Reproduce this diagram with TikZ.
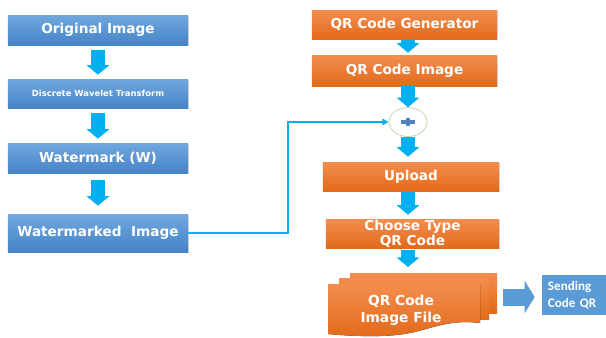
\documentclass[tikz,border=0pt]{standalone}
\usepackage{fontspec}
\setsansfont{DejaVu Sans}
\newfontfamily\carlito{Carlito}
\usetikzlibrary{arrows.meta,shapes.geometric,shadows}

\definecolor{bluetop}{RGB}{112,168,222}
\definecolor{bluebot}{RGB}{70,131,199}
\definecolor{orgtop}{RGB}{243,141,78}
\definecolor{orgbot}{RGB}{226,106,27}
\definecolor{arrowcyan}{RGB}{0,176,240}
\definecolor{sendblue}{RGB}{91,155,213}
\definecolor{ringgreen}{RGB}{169,209,142}
\definecolor{plusblue}{RGB}{79,129,189}

\begin{document}
\begin{tikzpicture}[x=0.025cm, y=-0.025cm,
  boxfont/.style={font=\sffamily\bfseries\fontsize{9.7}{10.7}\selectfont},
  bluebox/.style={rectangle, inner sep=0pt, minimum width=4.5cm, boxfont, text=white,
    top color=bluetop, bottom color=bluebot,
    drop shadow={shadow xshift=0.7pt, shadow yshift=-0.9pt, opacity=0.3}},
  orangebox/.style={rectangle, inner sep=0pt, boxfont, text=white, align=center,
    top color=orgtop, bottom color=orgbot,
    drop shadow={shadow xshift=0.7pt, shadow yshift=-0.9pt, opacity=0.3}},
  sheet/.style={top color=orgtop, bottom color=orgbot},
  blk/.style={arrowcyan, line width=0.33cm, -{Triangle[width=0.56cm, length=0.24cm]}},
  link/.style={arrowcyan, line width=1.4pt, -{Triangle[width=4.5pt, length=4.5pt]}}]

\useasboundingbox (0,0) rectangle (606,337);

% Left column
\node[bluebox, minimum height=0.75cm] (orig) at (98,30) {Original Image};
\node[bluebox, minimum height=0.725cm, font=\sffamily\bfseries\fontsize{6}{7}\selectfont] (dwt) at (98,93.5) {Discrete Wavelet Transform};
\node[bluebox, minimum height=0.75cm] (wmk) at (98,158) {Watermark (W)};
\node[bluebox, minimum height=0.95cm] (wmi) at (98,233) {Watermarked\ \ Image};

\draw[blk, shorten <=0.125cm, shorten >=0.1cm] (orig.south) -- (dwt.north);
\draw[blk, shorten <=0.125cm, shorten >=0.1cm] (dwt.south) -- (wmk.north);
\draw[blk, shorten <=0.175cm, shorten >=0.2cm] (wmk.south) -- (wmi.north);

% Right column
\node[orangebox, minimum width=4.625cm, minimum height=0.725cm] (gen) at (404.5,24.5) {QR Code Generator};
\node[orangebox, minimum width=4.625cm, minimum height=0.775cm] (img) at (404.5,70.5) {QR Code Image};
\node[ellipse, draw=ringgreen, fill=white, inner sep=0pt, minimum width=0.95cm, minimum height=0.725cm] (plus) at (408,122) {};
\draw[plusblue, line width=2.2pt] ([xshift=-0.175cm]plus.center) -- ([xshift=0.175cm]plus.center);
\draw[plusblue, line width=2.6pt] ([yshift=-0.1cm]plus.center) -- ([yshift=0.1cm]plus.center);
\node[orangebox, minimum width=4.4cm, minimum height=0.725cm] (upl) at (411,176.5) {Upload};
\node[orangebox, minimum width=4.325cm, minimum height=0.725cm] (type) at (412.5,233.5) {Choose Type\\QR Code};

% Stacked image files
\fill[sheet] (350,273) rectangle (497,313);
\fill[sheet] (339,278) rectangle (489,319);
\fill[sheet] (328,284) -- (480,284) -- (480,323)
  .. controls (450,319) and (430,329) .. (410,333)
  .. controls (385,338) and (350,336) .. (328,334) -- cycle;
\node[boxfont, text=white, align=center, font=\sffamily\bfseries\fontsize{9.8}{12}\selectfont] (file) at (401,310) {QR Code\\Image File};
\coordinate (filetop) at (408,267);
\coordinate (fileedge) at (503,297);

\node[rectangle, fill=sendblue, text=white, inner sep=0pt, inner xsep=0.15cm, text width=1.3cm, align=left,
  minimum width=1.6cm, minimum height=1cm, font=\carlito\bfseries\fontsize{9.3}{12}\selectfont] (send) at (574,295) {Sending\\Code QR};

\draw[blk, shorten <=0.025cm, shorten >=0.05cm] (gen.south -| plus) -- (img.north -| plus);
\draw[blk] (img.south -| plus) -- (plus.north);
\draw[blk, shorten >=0.125cm] (plus.south) -- (upl.north -| plus);
\draw[blk, shorten <=0.025cm, shorten >=0.1cm] (upl.south -| plus) -- (type.north -| plus);
\draw[blk, shorten <=0.05cm] (type.south -| plus) -- (filetop);
\draw[sendblue, line width=0.425cm, shorten >=0.175cm, -{Triangle[width=0.8cm, length=0.25cm]}] (fileedge) -- (fileedge -| send.west);

% Watermark link
\coordinate (bend) at (288,122);
\draw[link] (wmi.east) -| (bend) -- (plus.west);

\end{tikzpicture}
\end{document}
